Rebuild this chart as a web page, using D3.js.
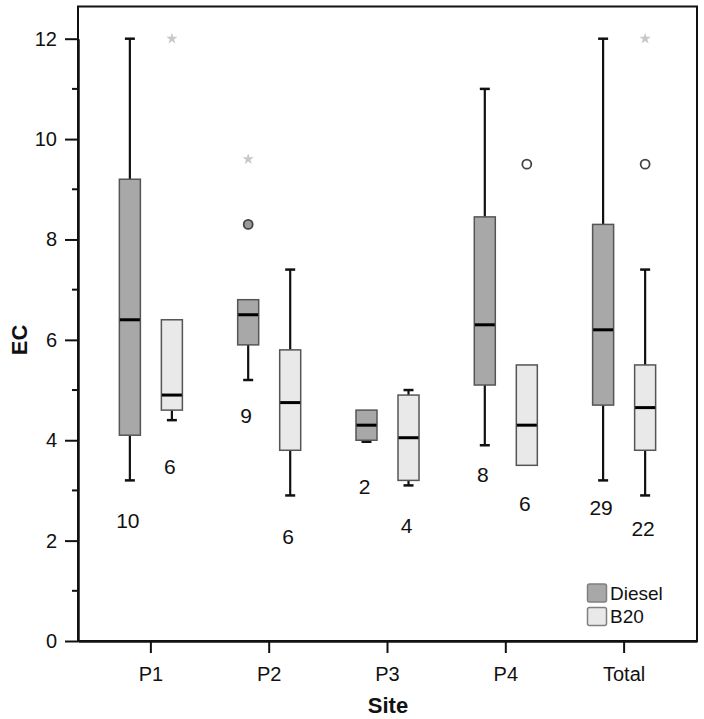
<!DOCTYPE html>
<html>
<head>
<meta charset="utf-8">
<script src="https://cdn.jsdelivr.net/npm/d3@7"></script>
<style>
  html, body { margin: 0; padding: 0; background: #fff; }
  svg { display: block; font-family: "Liberation Sans", Arial, sans-serif; }
</style>
</head>
<body>
<svg id="chart" width="704" height="719"></svg>
<script>
// ---- data ----
const sites = ["P1", "P2", "P3", "P4", "Total"];
const groups = ["Diesel", "B20"];
// [lower whisker, Q1, median, Q3, upper whisker]
const dieselStats = [
  [3.2, 4.1, 6.4, 9.2, 12],
  [5.2, 5.9, 6.5, 6.8, 6.8],
  [3.97, 4.0, 4.3, 4.6, 4.6],
  [3.9, 5.1, 6.3, 8.45, 11],
  [3.2, 4.7, 6.2, 8.3, 12]
];
const b20Stats = [
  [4.4, 4.6, 4.9, 6.4, 6.4],
  [2.9, 3.8, 4.75, 5.8, 7.4],
  [3.1, 3.2, 4.05, 4.9, 5.0],
  [3.5, 3.5, 4.3, 5.5, 5.5],
  [2.9, 3.8, 4.65, 5.5, 7.4]
];
const dieselN = [10, 9, 2, 8, 29];
const b20N = [6, 6, 4, 6, 22];
// value (EC units) at which each count label sits
const dieselNLabelAt = [2.4, 4.5, 3.07, 3.31, 2.67];
const b20NLabelAt = [3.47, 2.09, 2.31, 2.75, 2.25];
// outliers: extreme (star) and mild (circle)
const dieselStars = [[], [9.6], [], [], []];
const dieselCircles = [[], [8.3], [], [], []];
const b20Stars = [[12], [], [], [], [12]];
const b20Circles = [[], [], [], [9.5], [9.5]];
const yTicks = [0, 2, 4, 6, 8, 10, 12];
const yMinorTicks = [1, 3, 5, 7, 9, 11];

// ---- layout ----
const svg = d3.select("#chart");
const plot = { left: 78, right: 697, top: 6.5, bottom: 641 };
const fills = { Diesel: "#a8a8a8", B20: "#e9e9e9" };

const x = d3.scaleBand().domain(sites).range([plot.left, plot.right])
  .paddingInner(0).paddingOuter(0.116);
const xg = d3.scaleBand().domain(groups).range([0, x.bandwidth()])
  .paddingInner(0.5).paddingOuter(0.658);
const y = d3.scaleLinear().domain([0, 12]).range([plot.bottom, 38.7]);

const series = {
  Diesel: { stats: dieselStats, n: dieselN, nAt: dieselNLabelAt, stars: dieselStars, circles: dieselCircles },
  B20: { stats: b20Stats, n: b20N, nAt: b20NLabelAt, stars: b20Stars, circles: b20Circles }
};

// frame
svg.append("rect")
  .attr("x", plot.left).attr("y", plot.top)
  .attr("width", plot.right - plot.left).attr("height", plot.bottom - plot.top)
  .attr("fill", "none").attr("stroke", "#111").attr("stroke-width", 2);

// y axis
const yAxis = svg.append("g").attr("transform", `translate(${plot.left},0)`)
  .call(d3.axisLeft(y).tickValues(yTicks).tickSize(13).tickSizeOuter(0).tickPadding(8).tickFormat(d3.format("d")));
yAxis.select(".domain").attr("stroke", "#111").attr("stroke-width", 2.5);
yAxis.selectAll(".tick line").attr("stroke", "#111").attr("stroke-width", 2);
yAxis.selectAll(".tick text").attr("font-size", 20).attr("fill", "#111")
  .attr("font-family", "Liberation Sans, Arial, sans-serif");
svg.append("g").selectAll("line").data(yMinorTicks).join("line")
  .attr("x1", plot.left - 6).attr("x2", plot.left)
  .attr("y1", d => y(d)).attr("y2", d => y(d))
  .attr("stroke", "#111").attr("stroke-width", 2);

// x axis
const xAxis = svg.append("g").attr("transform", `translate(0,${plot.bottom})`)
  .call(d3.axisBottom(x).tickSize(12).tickSizeOuter(0).tickPadding(14));
xAxis.select(".domain").attr("stroke", "#111").attr("stroke-width", 2.5);
xAxis.selectAll(".tick line").attr("stroke", "#111").attr("stroke-width", 2);
xAxis.selectAll(".tick text").attr("font-size", 20).attr("fill", "#111")
  .attr("font-family", "Liberation Sans, Arial, sans-serif");

// axis titles
svg.append("text").attr("x", (plot.left + plot.right) / 2 + 0.5).attr("y", 713)
  .attr("text-anchor", "middle").attr("font-size", 22).attr("font-weight", "bold")
  .attr("fill", "#111").text("Site");
svg.append("text").attr("transform", `translate(27,${y(6)}) rotate(-90)`)
  .attr("text-anchor", "middle").attr("font-size", 22).attr("font-weight", "bold")
  .attr("fill", "#111").text("EC");

// boxes
const capW = 10;
groups.forEach(g => {
  const s = series[g];
  const bw = xg.bandwidth();
  sites.forEach((site, i) => {
    const [lo, q1, med, q3, hi] = s.stats[i];
    const x0 = x(site) + xg(g);
    const cx = x0 + bw / 2;
    const grp = svg.append("g");
    if (hi - q3 > 0.01) {
      grp.append("line").attr("x1", cx).attr("x2", cx).attr("y1", y(q3)).attr("y2", y(hi))
        .attr("stroke", "#111").attr("stroke-width", 2.2);
      grp.append("line").attr("x1", cx - capW / 2).attr("x2", cx + capW / 2)
        .attr("y1", y(hi)).attr("y2", y(hi)).attr("stroke", "#111").attr("stroke-width", 2.5);
    }
    if (q1 - lo > 0.01) {
      grp.append("line").attr("x1", cx).attr("x2", cx).attr("y1", y(q1)).attr("y2", y(lo))
        .attr("stroke", "#111").attr("stroke-width", 2.2);
      grp.append("line").attr("x1", cx - capW / 2).attr("x2", cx + capW / 2)
        .attr("y1", y(lo)).attr("y2", y(lo)).attr("stroke", "#111").attr("stroke-width", 2.5);
    }
    grp.append("rect").attr("x", x0).attr("y", y(q3))
      .attr("width", bw).attr("height", y(q1) - y(q3))
      .attr("fill", fills[g]).attr("stroke", "#555").attr("stroke-width", 1.5);
    grp.append("line").attr("x1", x0 + 0.5).attr("x2", x0 + bw - 0.5)
      .attr("y1", y(med)).attr("y2", y(med))
      .attr("stroke", "#000").attr("stroke-width", 3);
    // count label
    svg.append("text").attr("x", cx - 2).attr("y", y(s.nAt[i]))
      .attr("dy", "0.36em").attr("text-anchor", "middle")
      .attr("font-size", 21).attr("fill", "#111").text(s.n[i]);
    // outliers
    s.circles[i].forEach(v => {
      svg.append("circle").attr("cx", cx).attr("cy", y(v)).attr("r", 4.5)
        .attr("fill", g === "Diesel" ? "#9a9a9a" : "#fff")
        .attr("stroke", "#444").attr("stroke-width", 1.8);
    });
    s.stars[i].forEach(v => {
      svg.append("path").attr("transform", `translate(${cx},${y(v)})`)
        .attr("d", d3.symbol(d3.symbolStar, 40)())
        .attr("fill", "#c8c8c8").attr("stroke", "none");
    });
  });
});

// legend
const legend = svg.append("g");
groups.forEach((g, i) => {
  const ly = 584 + i * 23.5;
  legend.append("rect").attr("x", 587.5).attr("y", ly).attr("width", 19).attr("height", 18)
    .attr("rx", 2).attr("fill", fills[g]).attr("stroke", "#808080").attr("stroke-width", 1.5);
  legend.append("text").attr("x", 610).attr("y", ly + 9).attr("dy", "0.36em")
    .attr("font-size", 19).attr("fill", "#111").text(g);
});
</script>
</body>
</html>
